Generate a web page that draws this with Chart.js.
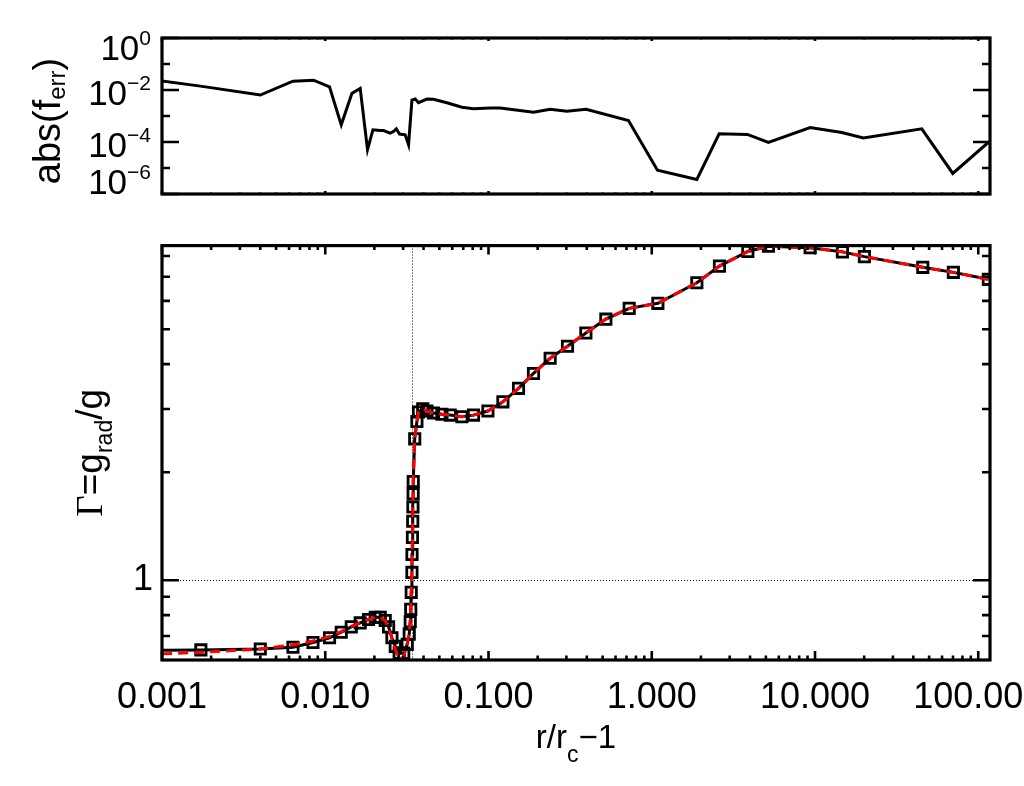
<!DOCTYPE html>
<html>
<head>
<meta charset="utf-8">
<title>Gamma = g_rad / g</title>
<script src="https://cdn.jsdelivr.net/npm/chart.js@4.4.1/dist/chart.umd.min.js"></script>
<style>
  html, body { margin: 0; padding: 0; background: #fff; overflow: hidden; }
  body { width: 1024px; height: 786px; position: relative; }
  canvas { position: absolute; left: 0; }
  #top { top: 0; }
  #bottom { top: 215px; }
</style>
</head>
<body>
<canvas id="top" width="1100" height="215"></canvas>
<canvas id="bottom" width="1100" height="571"></canvas>
<script>
// Valeurs lues sur la figure
// r/rc - 1 (grille commune pour le panneau du bas)
const radius = [
  0.00080, 0.00173, 0.00400, 0.00634, 0.00841, 0.01062, 0.01253, 0.01443, 0.01637, 0.01841,
  0.02024, 0.02172, 0.02330, 0.02443, 0.02562, 0.02685, 0.02838, 0.03025, 0.03178, 0.03269,
  0.03315, 0.03339, 0.03362, 0.03396, 0.03400, 0.03420, 0.03434, 0.03444, 0.03454, 0.03459,
  0.03532, 0.03643, 0.03726, 0.03954, 0.04195, 0.04603, 0.05184, 0.05828, 0.06873, 0.08092,
  0.09915, 0.1225, 0.1527, 0.1886, 0.2386, 0.3047, 0.3948, 0.5234, 0.7271, 1.090,
  1.889, 2.598, 3.877, 5.184, 9.333, 14.72, 20.07, 45.73, 70.39, 115.3
];
// Gamma ajusté (ligne noire + carrés)
const gammaFit = [
  0.638, 0.640, 0.644, 0.651, 0.671, 0.692, 0.717, 0.742, 0.761, 0.778,
  0.789, 0.789, 0.773, 0.742, 0.692, 0.655, 0.627, 0.627, 0.663, 0.708,
  0.767, 0.830, 0.926, 1.052, 1.180, 1.317, 1.460, 1.600, 1.741, 1.884,
  2.477, 2.768, 2.942, 3.003, 2.960, 2.924, 2.901, 2.884, 2.854, 2.884,
  2.960, 3.140, 3.424, 3.767, 4.152, 4.484, 4.883, 5.336, 5.717, 5.905,
  6.739, 7.496, 8.234, 8.518, 8.436, 8.213, 7.967, 7.438, 7.202, 6.887
];
// Gamma du modèle (tirets rouges)
const gammaModel = [
  0.622, 0.630, 0.644, 0.661, 0.678, 0.698, 0.720, 0.744, 0.762, 0.778,
  0.789, 0.789, 0.772, 0.738, 0.688, 0.643, 0.603, 0.612, 0.668, 0.712,
  0.767, 0.830, 0.926, 1.052, 1.180, 1.317, 1.460, 1.600, 1.741, 1.884,
  2.477, 2.768, 2.942, 3.003, 2.960, 2.924, 2.901, 2.884, 2.854, 2.884,
  2.960, 3.140, 3.424, 3.767, 4.152, 4.484, 4.883, 5.336, 5.717, 5.905,
  6.739, 7.496, 8.234, 8.518, 8.436, 8.213, 7.967, 7.438, 7.202, 6.887
];
// panneau du haut : erreur relative
const radiusErr = [
  0.00080, 0.00172, 0.00400, 0.00634, 0.00848, 0.01062, 0.01253, 0.01457, 0.01637, 0.01815,
  0.01959, 0.02172, 0.02275, 0.02500, 0.02620, 0.02721, 0.02851, 0.03088, 0.03238, 0.03396,
  0.03557, 0.03726, 0.04195, 0.04603, 0.05562, 0.06873, 0.08092, 0.1024, 0.1179, 0.1886,
  0.2386, 0.3020, 0.3964, 0.7199, 1.084, 1.889, 2.587, 3.855, 5.184, 9.333,
  14.59, 19.79, 45.08, 69.80, 117.0
];
const fErr = [
  0.0265, 0.0141, 0.00638, 0.0219, 0.0239, 0.01324, 4.57e-4, 0.00742, 0.0115, 5.08e-5,
  2.95e-4, 2.77e-4, 2.77e-4, 2.21e-4, 2.54e-4, 3.22e-4, 2.02e-4, 1.90e-4, 7.89e-5, 0.00412,
  0.00450, 0.00324, 0.00450, 0.00438, 0.00324, 0.00217, 0.00191, 0.00204, 0.00204, 0.00140,
  0.00182, 0.00152, 0.00182, 6.68e-4, 8.24e-6, 3.64e-6, 2.07e-4, 1.95e-4, 9.66e-5, 3.61e-4,
  2.32e-4, 1.42e-4, 3.22e-4, 6.17e-6, 1.05e-4
];

// Axes
const xMin = 0.001, xMax = 118;
const gammaMin = 0.612, gammaMax = 8.55;
const errMin = 1e-6, errMax = 1;

const xLabels = [0.001, 0.01, 0.1, 1, 10, 100];
const xMinor = [];
xLabels.forEach(d => { for (let k = 2; k < 10; k++) if (d * k < xMax) xMinor.push(d * k); });
const gammaLabels = [1];
const gammaMinor = [0.7, 0.8, 0.9, 2, 3, 4, 5, 6, 7, 8];
const errLabels = [1, 1e-2, 1e-4, 1e-6];
const errExp = ['0', '\u22122', '\u22124', '\u22126'];
const errMinor = [1e-1, 1e-3, 1e-5];

const xCut = 0.034;   // ligne pointillée verticale
const gammaEdd = 1;   // ligne pointillée horizontale

const SANS = '"Liberation Sans", Arial, Helvetica, sans-serif';
const SERIF = '"Liberation Serif", "Times New Roman", serif';

const pts = (xs, ys) => xs.map((x, i) => ({ x: x, y: ys[i] }));

// texte avec indices / exposants : parts = [texte, taille, décalage, police]
function drawRich(ctx, x, y, parts, align, angle) {
  ctx.save();
  ctx.translate(x, y);
  ctx.rotate(angle || 0);
  let total = 0;
  parts.forEach(p => { ctx.font = p[1] + 'px ' + (p[3] || SANS); total += ctx.measureText(p[0]).width; });
  let cx = align === 'center' ? -total / 2 : align === 'right' ? -total : 0;
  ctx.fillStyle = '#000';
  ctx.textAlign = 'left';
  ctx.textBaseline = 'alphabetic';
  parts.forEach(p => {
    ctx.font = p[1] + 'px ' + (p[3] || SANS);
    ctx.fillText(p[0], cx, p[2]);
    cx += ctx.measureText(p[0]).width;
  });
  ctx.restore();
}

// cadre style IDL avec graduations vers l'intérieur
function frame(cfg) {
  return {
    id: 'idlFrame',
    beforeDatasetsDraw(chart) {
      if (!cfg.guides) return;
      const { ctx, chartArea: a, scales } = chart;
      ctx.save();
      ctx.strokeStyle = '#000';
      ctx.lineWidth = 1;
      ctx.setLineDash([1, 2]);
      ctx.beginPath();
      const gx = Math.round(scales.x.getPixelForValue(xCut)) + 0.5;
      ctx.moveTo(gx, a.top); ctx.lineTo(gx, a.bottom);
      const gy = Math.round(scales.y.getPixelForValue(gammaEdd)) + 0.5;
      ctx.moveTo(a.left, gy); ctx.lineTo(a.right, gy);
      ctx.stroke();
      ctx.restore();
    },
    afterDraw(chart) {
      const { ctx, chartArea: a, scales: { x, y } } = chart;
      ctx.save();
      ctx.strokeStyle = '#000';
      ctx.lineWidth = 2.6;
      ctx.beginPath();
      const xt = (vals, len) => vals.forEach(v => {
        const px = x.getPixelForValue(v);
        ctx.moveTo(px, a.bottom); ctx.lineTo(px, a.bottom - len);
        ctx.moveTo(px, a.top); ctx.lineTo(px, a.top + len);
      });
      const yt = (vals, len) => vals.forEach(v => {
        const py = y.getPixelForValue(v);
        ctx.moveTo(a.left, py); ctx.lineTo(a.left + len, py);
        ctx.moveTo(a.right, py); ctx.lineTo(a.right - len, py);
      });
      xt(xLabels, cfg.xMajor); xt(xMinor, cfg.xMinor);
      yt(cfg.yMajorVals, cfg.yMajor); yt(cfg.yMinorVals, cfg.yMinor);
      ctx.stroke();
      ctx.lineWidth = 3.2;
      ctx.strokeRect(a.left, a.top, a.right - a.left, a.bottom - a.top);
      ctx.restore();
      cfg.text(chart);
    }
  };
}

const common = {
  responsive: false,
  animation: false,
  events: [],
  plugins: { legend: { display: false }, tooltip: { enabled: false } }
};

// Panneau du haut : abs(f_err)
new Chart(document.getElementById('top'), {
  type: 'scatter',
  data: {
    datasets: [{
      data: pts(radiusErr, fErr),
      showLine: true,
      borderColor: '#000',
      borderWidth: 3,
      pointRadius: 0,
      fill: false
    }]
  },
  options: Object.assign({}, common, {
    layout: { padding: { left: 162, top: 38, right: 110, bottom: 21 } },
    scales: {
      x: { type: 'logarithmic', min: xMin, max: xMax, display: false },
      y: { type: 'logarithmic', min: errMin, max: errMax, display: false }
    }
  }),
  plugins: [frame({
    xMajor: 3, xMinor: 1.5, yMajor: 17, yMinor: 8,
    yMajorVals: errLabels, yMinorVals: errMinor,
    text(chart) {
      const { ctx, chartArea: a, scales: { y } } = chart;
      errLabels.forEach((v, i) => {
        const c = Math.min(Math.max(y.getPixelForValue(v) + 2, a.top + 9.5), a.bottom - 13);
        drawRich(ctx, 151, c + 12.5, [['10', 35, 0], [errExp[i], 21, -15]], 'right');
      });
      drawRich(ctx, 60, 121, [['abs(f', 38, 0], ['err', 24, 5], [')', 38, 0]], 'center', -Math.PI / 2);
    }
  })]
});

// Panneau du bas : Gamma
new Chart(document.getElementById('bottom'), {
  type: 'scatter',
  data: {
    datasets: [{
      label: 'model',
      data: pts(radius, gammaModel),
      showLine: true,
      borderColor: '#ff0000',
      borderWidth: 3,
      borderDash: [10, 6],
      pointRadius: 0,
      fill: false
    }, {
      label: 'fit',
      data: pts(radius, gammaFit),
      showLine: true,
      borderColor: '#000',
      borderWidth: 3,
      pointStyle: 'rect',
      pointRadius: 7.3,
      pointBorderWidth: 2.8,
      pointBorderColor: '#000',
      pointBackgroundColor: 'rgba(0,0,0,0)',
      fill: false
    }]
  },
  options: Object.assign({}, common, {
    layout: { padding: { left: 0, top: 11, right: 110, bottom: 0 } },
    scales: {
      x: {
        type: 'logarithmic', min: xMin, max: xMax,
        grid: { display: false, drawTicks: false },
        border: { display: false },
        afterBuildTicks: s => { s.ticks = xLabels.map(v => ({ value: v })); },
        afterFit: s => { s.height = 126; },
        ticks: {
          autoSkip: false, maxRotation: 0, padding: 16, color: '#000',
          font: { family: SANS, size: 36 },
          callback: v => Number(v).toFixed(3)
        }
      },
      y: {
        type: 'logarithmic', min: gammaMin, max: gammaMax,
        grid: { display: false, drawTicks: false },
        border: { display: false },
        afterBuildTicks: s => { s.ticks = gammaLabels.map(v => ({ value: v })); },
        afterFit: s => { s.width = 162; },
        ticks: {
          padding: 9, color: '#000',
          font: { family: SANS, size: 36 },
          callback: v => String(v)
        }
      }
    }
  }),
  plugins: [frame({
    guides: true,
    xMajor: 9, xMinor: 4.5, yMajor: 17, yMinor: 8,
    yMajorVals: gammaLabels, yMinorVals: gammaMinor,
    text(chart) {
      const { ctx, chartArea: a } = chart;
      drawRich(ctx, 102, (a.top + a.bottom) / 2,
        [['\u0393', 37, 0, SERIF], ['=g', 37, 0], ['rad', 23, 10], ['/g', 37, 0]], 'center', -Math.PI / 2);
      drawRich(ctx, (a.left + a.right) / 2, 533,
        [['r/r', 33, 0], ['c', 23, 14], ['\u22121', 33, 0]], 'center');
    }
  })]
});
</script>
</body>
</html>
